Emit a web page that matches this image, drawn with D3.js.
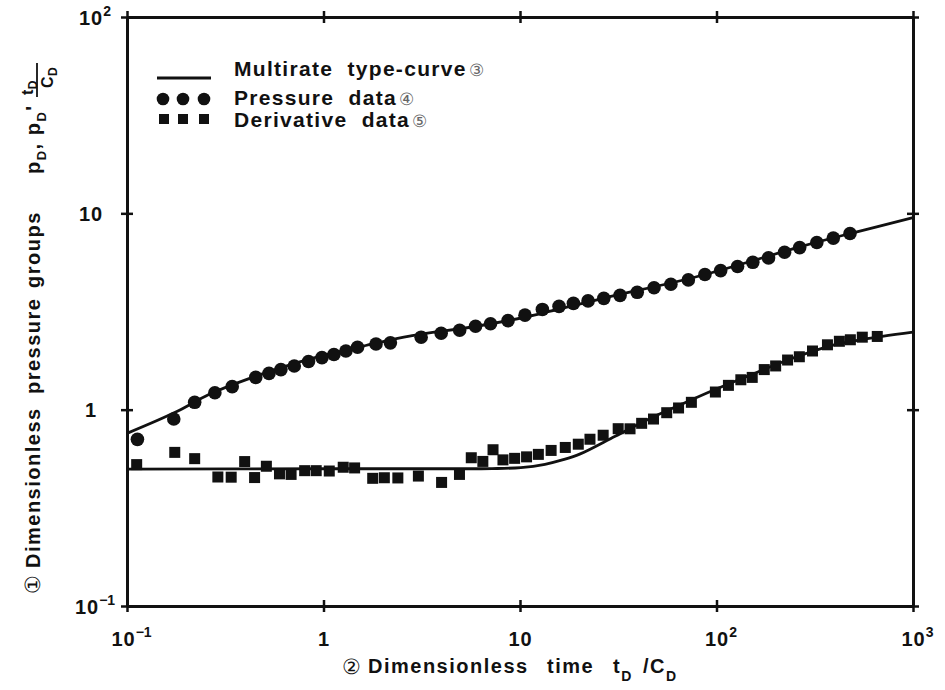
<!DOCTYPE html>
<html>
<head>
<meta charset="utf-8">
<script src="https://cdn.jsdelivr.net/npm/d3@7"></script>
<style>
  html, body { margin: 0; padding: 0; background: #fff; }
  svg { display: block; }
</style>
</head>
<body>
<svg id="chart" width="945" height="690"></svg>
<script>
// ---------- data ----------
const xTicks = [0.1, 1, 10, 100, 1000];
const xTickBase = ["10", "1", "10", "10", "10"];
const xTickExp = ["\u22121", "", "", "2", "3"];
const yTicks = [0.1, 1, 10, 100];
const yTickBase = ["10", "1", "10", "10"];
const yTickExp = ["\u22121", "", "", "2"];

const pressureX = [0.113,0.173,0.221,0.280,0.343,0.452,0.528,0.607,0.710,0.839,0.982,1.13,1.30,1.49,1.85,2.19,3.14,3.97,4.93,5.94,7.08,8.69,10.6,13.0,15.8,18.7,22.2,26.7,32.3,39.5,48.1,58.6,71.9,87.3,105,128,153,184,222,265,324,393,478];
const pressureY = [0.706,0.897,1.09,1.22,1.31,1.46,1.53,1.60,1.67,1.76,1.84,1.91,1.99,2.08,2.16,2.19,2.34,2.45,2.54,2.66,2.74,2.84,3.03,3.24,3.36,3.48,3.58,3.69,3.82,3.96,4.18,4.35,4.58,4.88,5.11,5.36,5.63,5.93,6.34,6.69,7.10,7.48,7.89];

const derivX = [0.112,0.175,0.221,0.290,0.339,0.397,0.446,0.512,0.597,0.684,0.802,0.918,1.07,1.26,1.44,1.78,2.04,2.39,3.04,3.99,4.92,5.65,6.47,7.29,8.19,9.39,10.8,12.4,14.4,17.0,19.8,22.7,26.5,31.6,36.3,41.6,47.8,55.8,64.1,74.5,98.7,115,133,152,175,200,230,264,308,367,422,480,552,658];
const derivY = [0.525,0.606,0.563,0.454,0.453,0.544,0.451,0.515,0.471,0.468,0.489,0.489,0.487,0.509,0.505,0.447,0.450,0.449,0.459,0.426,0.468,0.569,0.545,0.625,0.555,0.565,0.575,0.592,0.620,0.642,0.667,0.707,0.741,0.800,0.799,0.852,0.896,0.965,1.02,1.09,1.23,1.33,1.42,1.46,1.60,1.67,1.79,1.86,1.99,2.14,2.23,2.27,2.34,2.36];

const typeCurveX = [0.1,0.176,0.261,0.418,0.847,1.85,2.74,6.0,10.8,25.5,82.6,268,478,1000];
const typeCurveY = [0.757,0.969,1.195,1.44,1.81,2.18,2.37,2.66,2.97,3.66,4.81,6.77,7.89,9.5];

const derivCurveX = [0.1,1.05,4.3,7.2,10.1,13.4,16.6,20.4,30.5,45.6,67,99,146,234,385,697,1000];
const derivCurveY = [0.498,0.5,0.5,0.501,0.507,0.527,0.556,0.597,0.732,0.899,1.07,1.27,1.49,1.80,2.12,2.36,2.48];

const legendLabels = ["Multirate  type-curve", "Pressure  data", "Derivative  data"];
const legendMarks = ["\u2462", "\u2463", "\u2464"];

// ---------- layout ----------
const svg = d3.select("#chart");
svg.append("rect").attr("width", 945).attr("height", 690).attr("fill", "#fff");

const L = 127, R = 913, T = 17, B = 606;
const x = d3.scaleLog().domain([0.1, 1000]).range([L, R]);
const y = d3.scaleLog().domain([0.1, 100]).range([B, T]);

const FONT = "'Liberation Sans', Arial, Helvetica, sans-serif";
const INK = "#111";

// ---------- axes ----------
function crossTicks(g, horizontal) {
  g.selectAll(".tick line")
    .attr(horizontal ? "y1" : "x1", -6)
    .attr(horizontal ? "y2" : "x2", 6)
    .attr("stroke", INK).attr("stroke-width", 2.5);
  g.select(".domain").attr("stroke", INK).attr("stroke-width", 3);
}

function labelTicks(g, base, exp, ticks) {
  g.selectAll(".tick text").each(function(d) {
    const i = ticks.indexOf(d);
    const t = d3.select(this);
    t.text(null)
      .attr("font-family", FONT).attr("font-weight", "bold")
      .attr("font-size", 20).attr("fill", INK).attr("letter-spacing", 1);
    t.append("tspan").text(base[i]);
    if (exp[i]) {
      t.append("tspan").attr("dy", -9).attr("font-size", 14).attr("letter-spacing", 0).text(exp[i]);
    }
  });
}

const gx = svg.append("g").attr("transform", `translate(0,${B})`)
  .call(d3.axisBottom(x).tickValues(xTicks).tickSizeInner(6).tickSizeOuter(0).tickPadding(14).tickFormat(() => ""));
crossTicks(gx, true);
labelTicks(gx, xTickBase, xTickExp, xTicks);
gx.selectAll(".tick text").attr("dx", (d, i) => xTickExp[i] ? 4 : 0).attr("dy", "1.0em");

const gxt = svg.append("g").attr("transform", `translate(0,${T})`)
  .call(d3.axisTop(x).tickValues(xTicks).tickSizeInner(6).tickSizeOuter(0).tickFormat(() => ""));
crossTicks(gxt, true);

const gy = svg.append("g").attr("transform", `translate(${L},0)`)
  .call(d3.axisLeft(y).tickValues(yTicks).tickSizeInner(6).tickSizeOuter(0).tickFormat(() => ""));
crossTicks(gy, false);
labelTicks(gy, yTickBase, yTickExp, yTicks);
gy.selectAll(".tick text").attr("text-anchor", "middle")
  .attr("x", (d, i) => -36 + (yTickExp[i] ? 4 : 0)).attr("dy", "0.36em");

const gyr = svg.append("g").attr("transform", `translate(${R},0)`)
  .call(d3.axisRight(y).tickValues(yTicks).tickSizeInner(6).tickSizeOuter(0).tickFormat(() => ""));
crossTicks(gyr, false);

// ---------- curves ----------
const line = d3.line().x(d => x(d[0])).y(d => y(d[1])).curve(d3.curveCatmullRom.alpha(0.5));
svg.append("path").datum(d3.zip(typeCurveX, typeCurveY)).attr("d", line)
  .attr("fill", "none").attr("stroke", INK).attr("stroke-width", 2.8);
svg.append("path").datum(d3.zip(derivCurveX, derivCurveY)).attr("d", line)
  .attr("fill", "none").attr("stroke", INK).attr("stroke-width", 2.8);

// ---------- data points ----------
svg.append("g").selectAll("circle").data(d3.zip(pressureX, pressureY)).join("circle")
  .attr("cx", d => x(d[0])).attr("cy", d => y(d[1])).attr("r", 6.8).attr("fill", INK);

const S = 11;
svg.append("g").selectAll("rect").data(d3.zip(derivX, derivY)).join("rect")
  .attr("x", d => x(d[0]) - S / 2).attr("y", d => y(d[1]) - S / 2)
  .attr("width", S).attr("height", S).attr("fill", INK);

// ---------- legend ----------
const lg = svg.append("g");
lg.append("line").attr("x1", 157).attr("x2", 211).attr("y1", 78).attr("y2", 78)
  .attr("stroke", INK).attr("stroke-width", 3);
[163, 183, 204].forEach(cx => lg.append("circle").attr("cx", cx).attr("cy", 99).attr("r", 6.3).attr("fill", INK));
[164, 183, 204].forEach(cx => lg.append("rect").attr("x", cx - 5).attr("y", 114).attr("width", 10).attr("height", 10).attr("fill", INK));
const legendBase = [76, 105, 127];
legendLabels.forEach((lab, i) => {
  const t = lg.append("text").attr("x", 234).attr("y", legendBase[i])
    .attr("font-family", FONT).attr("font-weight", "bold").attr("font-size", 21)
    .attr("letter-spacing", 1.3).attr("fill", INK).attr("xml:space", "preserve");
  t.append("tspan").text(lab);
  t.append("tspan").attr("font-weight", "normal").attr("font-size", 17).attr("fill", "#666")
    .attr("dx", 2).text(legendMarks[i]);
});

// ---------- x title ----------
const xt = svg.append("g").attr("font-family", FONT).attr("font-weight", "bold")
  .attr("font-size", 20).attr("fill", INK).attr("letter-spacing", 1.5);
xt.append("text").attr("x", 342).attr("y", 674).attr("font-weight", "normal").attr("font-size", 21).text("\u2461");
xt.append("text").attr("x", 368).attr("y", 673).text("Dimensionless");
xt.append("text").attr("x", 547).attr("y", 673).text("time");
const xtd = xt.append("text").attr("x", 613).attr("y", 673);
xtd.append("tspan").text("t");
xtd.append("tspan").attr("dy", 8).attr("font-size", 14).text("D");
const xtc = xt.append("text").attr("x", 643).attr("y", 673);
xtc.append("tspan").text("/C");
xtc.append("tspan").attr("dy", 8).attr("font-size", 14).text("D");

// ---------- y title ----------
const yt = svg.append("g").attr("transform", "translate(40,594) rotate(-90)")
  .attr("font-family", FONT).attr("font-weight", "bold").attr("font-size", 20)
  .attr("fill", INK).attr("letter-spacing", 1.5);
yt.append("text").attr("x", 0).attr("y", 0).attr("font-weight", "normal").attr("font-size", 21).text("\u2460");
yt.append("text").attr("x", 26).attr("y", 0).text("Dimensionless");
yt.append("text").attr("x", 200).attr("y", 0).text("pressure");
yt.append("text").attr("x", 306).attr("y", 0).text("groups");
const yp = yt.append("text").attr("x", 420).attr("y", 0);
yp.append("tspan").text("p");
yp.append("tspan").attr("dy", 6).attr("font-size", 13).text("D");
yp.append("tspan").attr("dy", -6).text(", p");
yp.append("tspan").attr("dy", 6).attr("font-size", 13).text("D");
yp.append("tspan").attr("dy", -6).text("'");
const fr = yt.append("g").attr("font-size", 16).attr("letter-spacing", 0.5);
const num = fr.append("text").attr("x", 499).attr("y", -7);
num.append("tspan").text("t");
num.append("tspan").attr("dy", 4).attr("font-size", 12).text("D");
const den = fr.append("text").attr("x", 506).attr("y", 13);
den.append("tspan").text("C");
den.append("tspan").attr("dy", 4).attr("font-size", 12).text("D");
fr.append("line").attr("x1", 497).attr("x2", 531).attr("y1", -3).attr("y2", -3)
  .attr("stroke", INK).attr("stroke-width", 1.8);
</script>
</body>
</html>
